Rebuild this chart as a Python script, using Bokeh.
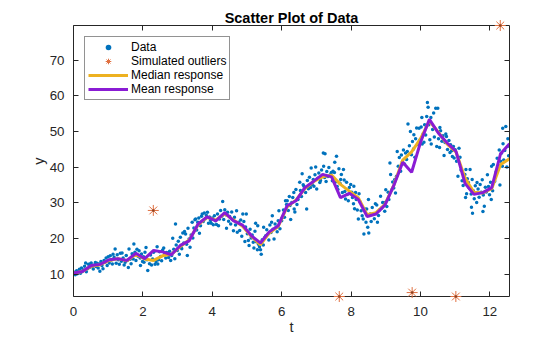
import numpy as np
from bokeh.plotting import figure
from bokeh.models import Range1d, LinearAxis, FixedTicker, Legend, LegendItem, CustomJSTickFormatter
from bokeh.embed import file_html
from bokeh.resources import INLINE

# ---- data ----
data_t = [
    0.01, 0.03, 0.05, 0.07, 0.09, 0.11, 0.12,
    0.14, 0.17, 0.20, 0.23, 0.26, 0.29, 0.32, 0.35, 0.37,
    0.40, 0.43, 0.46, 0.49, 0.51, 0.54, 0.57, 0.60, 0.63,
    0.65, 0.68, 0.71, 0.74, 0.76, 0.79, 0.82, 0.85, 0.88,
    0.91, 0.94, 0.97, 1.00, 1.03, 1.06, 1.09, 1.12, 1.14,
    1.17, 1.20, 1.23, 1.26, 1.29, 1.32, 1.35, 1.38, 1.40,
    1.43, 1.46, 1.49, 1.52, 1.55, 1.58, 1.60, 1.63, 1.66,
    1.69, 1.72, 1.74, 1.77, 1.80, 1.83, 1.86, 1.89, 1.92,
    1.93, 1.96, 1.99, 2.02, 2.03, 2.06, 2.09, 2.12, 2.14,
    2.19, 2.22, 2.25, 2.28, 2.31, 2.35, 2.38, 2.41, 2.43,
    2.45, 2.48, 2.51, 2.54, 2.57, 2.60, 2.63, 2.66, 2.68,
    2.71, 2.74, 2.77, 2.80, 2.83, 2.86, 2.89, 2.92, 2.94,
    2.96, 2.99, 3.02, 3.05, 3.08, 3.10, 3.12, 3.15, 3.18,
    3.20, 3.23, 3.26, 3.28, 3.30, 3.33, 3.36, 3.39, 3.42, 3.44,
    3.47, 3.50, 3.52, 3.55, 3.58, 3.61, 3.63, 3.66, 3.69,
    3.71, 3.74, 3.77, 3.80, 3.83, 3.86, 3.89, 3.92, 3.95,
    3.97, 4.00, 4.03, 4.06, 4.09, 4.12, 4.15, 4.18, 4.21,
    4.24, 4.27, 4.30, 4.33, 4.36, 4.39, 4.41, 4.44, 4.47,
    4.50, 4.53, 4.56, 4.59, 4.61, 4.64, 4.67, 4.70, 4.72,
    4.76, 4.79, 4.82, 4.85, 4.88, 4.91, 4.94, 4.96, 4.98,
    5.01, 5.04, 5.06, 5.09, 5.12, 5.15, 5.18, 5.20, 5.23,
    5.25, 5.27, 5.30, 5.31, 5.33, 5.36, 5.39, 5.41, 5.44, 5.47,
    5.48, 5.51, 5.54, 5.57, 5.60, 5.63, 5.66, 5.69, 5.71,
    5.73, 5.75, 5.78, 5.81, 5.84, 5.87, 5.90, 5.92, 5.95,
    6.00, 6.02, 6.05, 6.08, 6.11, 6.14, 6.16, 6.19, 6.22, 6.24,
    6.26, 6.29, 6.32, 6.35, 6.36, 6.38, 6.41, 6.44, 6.47, 6.52,
    6.54, 6.57, 6.59, 6.62, 6.64, 6.69, 6.72, 6.74, 6.77,
    6.80, 6.83, 6.85, 6.88, 6.91, 6.93, 6.96, 6.98, 7.01, 7.04,
    7.07, 7.10, 7.12, 7.15, 7.20, 7.21, 7.24, 7.25, 7.28, 7.30,
    7.33, 7.36, 7.40, 7.43, 7.46, 7.48, 7.52, 7.53, 7.55,
    7.58, 7.60, 7.62, 7.65, 7.68, 7.70, 7.72, 7.75, 7.78, 7.80,
    7.82, 7.84, 7.87, 7.89, 7.92, 7.95, 7.99, 8.02, 8.04,
    8.07, 8.08, 8.10, 8.13, 8.15, 8.18, 8.21, 8.23, 8.26, 8.29,
    8.32, 8.35, 8.37, 8.40, 8.43, 8.45, 8.48, 8.50, 8.51, 8.55,
    8.58, 8.61, 8.64, 8.67, 8.70, 8.74, 8.76, 8.79, 8.82,
    8.85, 8.88, 8.91, 8.95, 8.97, 9.00, 9.03, 9.07, 9.09,
    9.12, 9.14, 9.17, 9.20, 9.23, 9.26, 9.28, 9.31, 9.33,
    9.36, 9.39, 9.43, 9.45, 9.48, 9.51, 9.54, 9.57, 9.60,
    9.62, 9.64, 9.68, 9.71, 9.74, 9.77, 9.80, 9.81, 9.84, 9.86,
    9.89, 9.92, 9.96, 9.99, 10.02, 10.04, 10.05, 10.08, 10.10, 10.12,
    10.15, 10.18, 10.20, 10.22, 10.24, 10.27, 10.30, 10.31, 10.35, 10.38,
    10.40, 10.44, 10.47, 10.50, 10.52, 10.55, 10.56, 10.58, 10.62,
    10.65, 10.68, 10.71, 10.73, 10.75, 10.78, 10.82, 10.85, 10.87,
    10.90, 10.92, 10.95, 10.97, 11.00, 11.04, 11.08, 11.11, 11.14,
    11.17, 11.20, 11.23, 11.26, 11.28, 11.30, 11.31, 11.33, 11.35, 11.38,
    11.41, 11.43, 11.46, 11.47, 11.49, 11.50, 11.52, 11.55, 11.58, 11.62, 11.63,
    11.66, 11.69, 11.72, 11.75, 11.78, 11.80, 11.81, 11.84, 11.87, 11.90,
    11.93, 11.96, 11.99, 12.02, 12.04, 12.05, 12.08, 12.10, 12.14,
    12.18, 12.21, 12.24, 12.27, 12.29, 12.31, 12.33, 12.36, 12.38,
    12.40, 12.43, 12.46, 12.37, 12.49, 12.52, 12.54, 12.56,
]
data_y = [
    10.1, 10.6, 9.9, 10.4, 11.0, 10.2, 10.8,
    10.5, 11.4, 10.3, 11.8, 10.9, 11.2, 12.3, 13.2, 10.7,
    11.6, 12.8, 11.9, 13.0, 13.2, 12.1, 11.5, 12.6, 13.3,
    12.2, 13.1, 11.8, 12.9, 10.9, 13.6, 12.5, 11.6, 13.9,
    13.4, 14.6, 12.5, 14.9, 13.2, 15.2, 14.0, 12.9, 15.6,
    14.8, 17.1, 13.1, 15.5, 14.1, 12.8, 15.9, 13.7, 16.0,
    14.6, 12.6, 13.4, 15.3, 13.9, 11.9, 17.1, 14.2, 13.0,
    15.8, 14.3, 18.5, 16.2, 13.9, 17.0, 15.1, 16.6, 14.6,
    12.5, 15.7, 13.6, 14.9, 13.4, 16.2, 17.5, 14.1, 11.1,
    13.0, 15.4, 12.6, 14.3, 16.2, 12.8, 13.6, 17.7, 12.9,
    14.1, 16.3, 15.0, 13.8, 16.8, 17.4, 15.6, 14.6, 16.1,
    15.9, 14.7, 16.5, 13.9, 15.3, 20.1, 17.0, 14.4, 24.1,
    18.2, 16.7, 19.3, 15.6, 20.4, 17.5, 17.2, 21.6, 18.8,
    22.0, 21.3, 18.4, 15.3, 22.9, 19.9, 17.6, 21.0, 24.6, 20.2,
    23.0, 25.3, 25.5, 22.4, 24.6, 25.8, 21.5, 23.6, 26.3,
    26.9, 24.8, 27.2, 25.6, 26.5, 27.4, 24.3, 26.1, 25.1,
    24.3, 25.8, 23.9, 26.4, 25.0, 24.0, 26.9, 23.6, 25.5,
    27.9, 26.3, 30.4, 25.4, 28.1, 26.7, 22.9, 27.4, 24.9,
    26.2, 24.1, 27.5, 25.3, 22.2, 26.0, 23.8, 27.8, 21.8,
    24.6, 22.3, 25.2, 20.7, 26.9, 24.8, 19.2, 23.3, 26.9,
    21.4, 19.5, 18.1, 22.6, 20.2, 21.0, 19.0, 17.4, 22.1,
    24.3, 19.1, 16.9, 23.6, 18.4, 17.7, 16.9, 15.6, 19.7, 18.2,
    23.2, 20.3, 20.8, 22.5, 21.2, 19.6, 23.8, 21.7, 24.6,
    26.4, 22.6, 19.9, 24.1, 23.1, 21.9, 25.0, 27.8, 22.8,
    25.0, 25.9, 28.0, 26.0, 30.6, 29.6, 30.6, 27.9, 31.8, 29.3,
    25.4, 30.1, 31.5, 32.9, 28.3, 27.5, 33.8, 29.6, 31.0, 35.8,
    33.5, 31.8, 38.2, 35.1, 34.7, 32.9, 28.3, 36.3, 34.0,
    37.2, 34.3, 39.8, 35.2, 36.6, 34.7, 37.9, 40.1, 33.9, 36.9,
    38.4, 35.7, 36.3, 39.2, 44.0, 40.3, 37.1, 43.8, 36.0, 38.8,
    37.4, 39.9, 37.9, 38.5, 36.2, 38.9, 38.5, 41.4, 35.9,
    43.1, 34.6, 33.8, 39.6, 35.5, 36.6, 38.0, 32.9, 39.4, 36.4,
    33.2, 31.1, 35.8, 32.4, 30.6, 34.3, 35.2, 33.0, 31.5,
    29.8, 34.7, 28.4, 32.9, 31.0, 28.0, 25.5, 32.6, 30.3, 27.8,
    26.4, 25.5, 21.3, 28.3, 24.6, 28.3, 23.2, 31.0, 21.6, 26.9,
    24.8, 28.7, 27.0, 25.6, 29.8, 29.4, 24.6, 26.5, 28.0,
    31.9, 28.6, 30.1, 30.1, 27.7, 33.7, 29.0, 33.0, 31.0,
    41.2, 38.0, 33.6, 35.9, 34.2, 36.6, 32.8, 37.5, 44.4,
    40.3, 42.7, 38.9, 43.4, 41.6, 44.8, 40.9, 44.0, 42.2,
    44.4, 52.1, 46.0, 50.0, 43.5, 47.2, 45.1, 49.1, 42.8, 48.0,
    51.0, 46.4, 50.9, 47.6, 51.3, 53.9, 46.5, 49.4, 47.0, 51.9,
    49.0, 54.2, 58.1, 56.8, 51.9, 47.7, 53.9, 46.5, 50.6, 55.2,
    48.5, 56.5, 45.8, 56.5, 48.0, 45.5, 51.1, 50.2, 47.3,
    48.8, 43.3, 46.9, 49.3, 48.6, 45.0, 47.5, 44.1, 46.3,
    44.6, 43.0, 45.8, 42.6, 44.9, 41.7, 37.5, 45.3, 42.8,
    39.2, 36.2, 34.9, 37.8, 38.0, 31.5, 39.4, 32.6, 36.8, 35.7,
    34.1, 39.4, 32.5, 28.8, 36.6, 27.1, 33.4, 31.2, 34.8, 30.1, 35.7,
    33.9, 31.6, 35.2, 33.0, 36.5, 27.6, 32.2, 29.1, 34.4, 33.1,
    37.9, 34.6, 32.3, 35.8, 31.0, 40.3, 33.4, 40.8, 36.1,
    38.7, 42.5, 39.4, 44.8, 35.0, 41.7, 43.9, 40.3, 46.6,
    42.0, 44.7, 51.4, 50.9, 40.1, 48.0, 43.2, 45.9,
]

outlier_t = [2.30, 7.66, 9.76, 11.02, 12.30]
outlier_y = [27.9, 3.8, 4.9, 3.8, 79.7]

grid_t = [0.000, 0.256, 0.513, 0.769, 1.026, 1.282, 1.539, 1.795, 2.052, 2.308,
          2.565, 2.821, 3.077, 3.334, 3.590, 3.847, 4.103, 4.360, 4.616, 4.873,
          5.129, 5.385, 5.642, 5.898, 6.155, 6.411, 6.668, 6.924, 7.181, 7.437,
          7.694, 7.950, 8.206, 8.463, 8.719, 8.976, 9.232, 9.489, 9.745, 10.002,
          10.258, 10.514, 10.771, 11.027, 11.284, 11.540, 11.797, 12.053, 12.309, 12.566]
median_y = [10.3, 10.8, 12.3, 12.7, 13.9, 14.4, 13.8, 15.6, 14.3, 13.9,
            15.2, 15.6, 17.8, 19.6, 23.9, 26.0, 25.2, 27.0, 25.2, 23.5,
            20.6, 18.3, 21.6, 23.4, 28.9, 30.8, 34.0, 36.0, 37.3, 37.8,
            35.2, 33.3, 31.5, 26.7, 27.3, 29.6, 35.0, 42.0, 44.3, 48.0,
            53.0, 49.8, 46.5, 44.2, 37.0, 33.0, 32.8, 34.0, 40.8, 42.4]
mean_y = [10.4, 10.8, 12.5, 12.8, 14.1, 14.4, 13.9, 15.9, 14.4, 16.7,
          16.3, 15.5, 18.1, 19.4, 24.1, 26.1, 25.0, 27.3, 25.0, 23.8,
          20.8, 18.8, 21.9, 23.6, 29.2, 30.6, 34.3, 36.1, 38.0, 37.3,
          31.5, 32.7, 31.0, 26.2, 26.9, 29.4, 34.9, 41.4, 38.6, 47.0,
          53.4, 49.6, 46.8, 44.4, 35.5, 32.4, 32.9, 34.3, 43.8, 46.6]

x_ticks = [0, 2, 4, 6, 8, 10, 12]
y_ticks = [10, 20, 30, 40, 50, 60, 70]
x_limits = [0, 12.566]

assert len(data_t) == len(data_y)

AX = "#262626"
FONT = "Liberation Sans"

p = figure(width=560, height=337, output_backend="svg", toolbar_location=None,
           x_range=Range1d(x_limits[0], x_limits[1]),
           y_range=Range1d(min(outlier_y), max(outlier_y)),
           min_border_left=73, min_border_right=51, min_border_top=25, min_border_bottom=39,
           background_fill_color="white", border_fill_color="white")
p.outline_line_color = None
p.xgrid.visible = False
p.ygrid.visible = False

p.title.text = "Scatter Plot of Data"
p.title.align = "center"
p.title.text_font = FONT
p.title.text_font_size = "14.5px"
p.title.text_font_style = "bold"
p.title.text_color = "#000000"
p.title.standoff = 0

def style_axis(ax, ticks, show_labels=True):
    ax.ticker = FixedTicker(ticks=ticks)
    ax.axis_line_color = AX
    ax.axis_line_width = 1
    ax.major_tick_line_color = AX
    ax.major_tick_in = 5
    ax.major_tick_out = 0
    ax.minor_tick_line_color = None
    ax.major_label_text_font = FONT
    ax.major_label_text_color = AX
    ax.major_label_text_font_size = "13.3px"
    if not show_labels:
        ax.formatter = CustomJSTickFormatter(code="return ''")
        ax.major_label_standoff = 0

xa = p.xaxis[0]
style_axis(xa, x_ticks)
xa.major_label_standoff = 10
xa.axis_label = "t"
xa.axis_label_text_font = FONT
xa.axis_label_text_font_size = "14.5px"
xa.axis_label_text_font_style = "normal"
xa.axis_label_text_color = AX
xa.axis_label_standoff = 0

ya = p.yaxis[0]
style_axis(ya, y_ticks)
ya.major_label_standoff = 9
ya.axis_label = "y"
ya.axis_label_text_font = FONT
ya.axis_label_text_font_size = "14.5px"
ya.axis_label_text_font_style = "normal"
ya.axis_label_text_color = AX
ya.axis_label_standoff = 0

top = LinearAxis()
style_axis(top, x_ticks, show_labels=False)
p.add_layout(top, "above")
right = LinearAxis()
style_axis(right, y_ticks, show_labels=False)
p.add_layout(right, "right")

r_data = p.scatter(data_t, data_y, size=3.5, marker="circle", fill_color="#0072BD",
                   line_color=None)
r_med = p.line(grid_t, median_y, line_color="#EDB120", line_width=3)
r_mean = p.line(grid_t, mean_y, line_color="#8A1CD4", line_width=3)
r_out1 = p.scatter(outlier_t, outlier_y, size=11, marker="asterisk",
                   line_color="#E07040", line_width=1, level="overlay")
r_out2 = p.scatter(outlier_t, outlier_y, size=2.5, marker="circle",
                   fill_color="#8A4020", line_color=None, level="overlay")

legend = Legend(items=[
    LegendItem(label="Data", renderers=[r_data]),
    LegendItem(label="Simulated outliers", renderers=[r_out1]),
    LegendItem(label="Median response", renderers=[r_med]),
    LegendItem(label="Mean response", renderers=[r_mean]),
])
legend.location = "top_left"
legend.margin = 11
legend.padding = 3
legend.spacing = 0
legend.glyph_width = 40
legend.glyph_height = 14
legend.label_height = 14
legend.label_standoff = 3
legend.label_text_font = FONT
legend.label_text_font_size = "12px"
legend.label_text_color = "#000000"
legend.border_line_color = AX
legend.border_line_width = 1
legend.background_fill_color = "white"
legend.background_fill_alpha = 1
p.add_layout(legend)

open("out.html", "w").write(file_html(p, INLINE))
